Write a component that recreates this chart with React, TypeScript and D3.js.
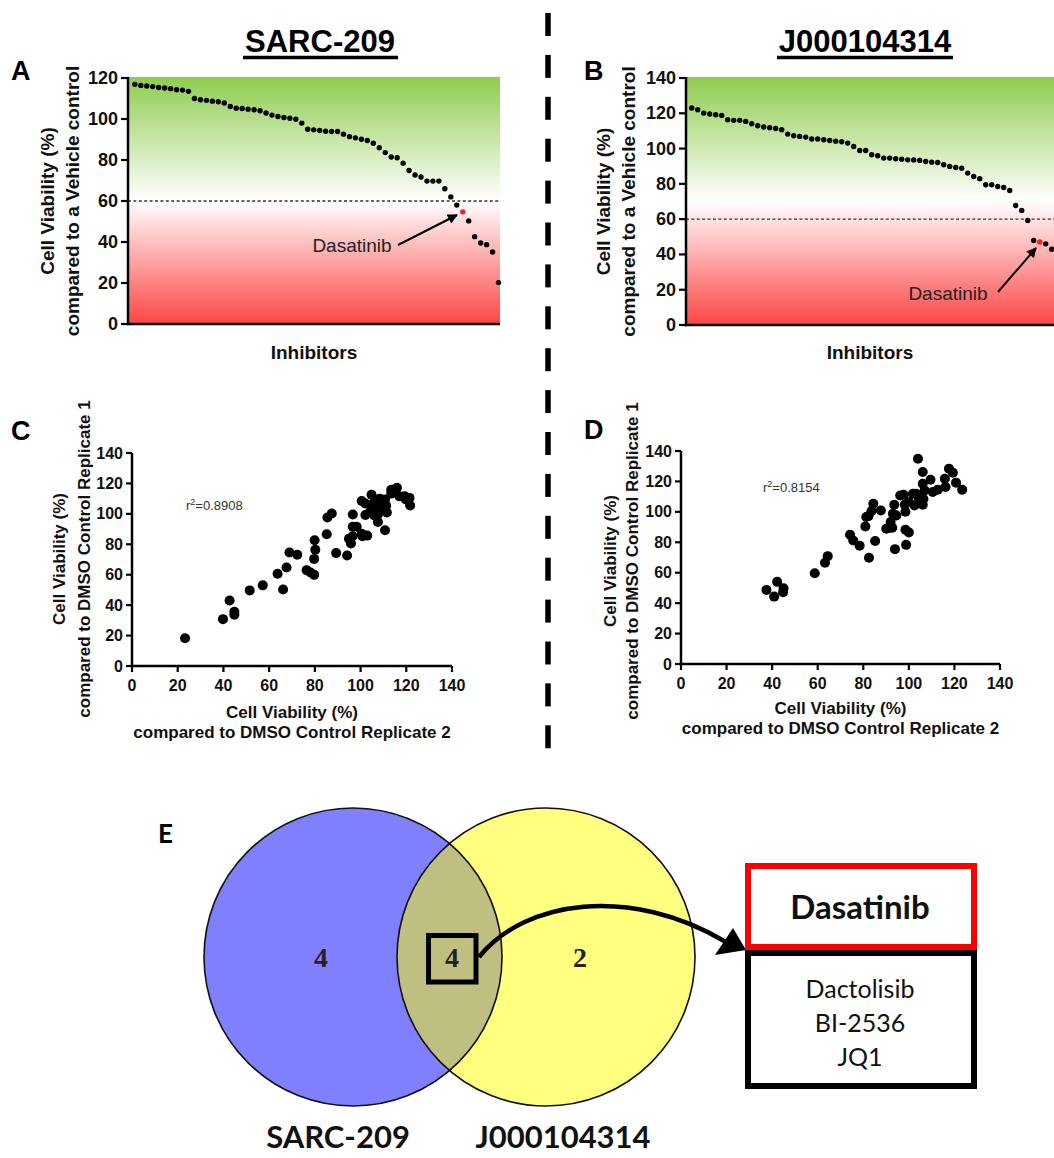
import React from 'react';
import * as d3 from 'd3';

const SANS = '"Liberation Sans", Arial, Helvetica, sans-serif';
const SERIF = '"Liberation Serif", "Times New Roman", serif';
const CAL = 'Lato, "Open Sans", sans-serif';

// ---------- Data ----------
const sarcViability = [
  116.9, 116.4, 116.1, 115.8, 115.4, 115.1, 114.8, 114.3, 114.1, 113.5,
  110.0, 109.4, 109.1, 108.7, 108.4, 107.8, 106.1, 105.3, 105.1, 104.8,
  104.5, 104.0, 102.9, 101.9, 101.2, 100.7, 100.4, 99.9, 98.0, 95.0,
  94.7, 94.4, 94.0, 93.9, 93.9, 92.6, 91.4, 90.8, 90.1, 89.5,
  88.2, 86.0, 83.6, 81.5, 81.1, 78.4, 74.9, 72.7, 71.7, 69.7,
  69.7, 69.7, 66.0, 62.0, 58.0, 54.7, 50.3, 42.6, 39.5, 38.7,
  35.1, 20.2,
];
const sarcDasatinibIndex = 55;

const jViability = [
  123.0, 122.0, 120.1, 119.6, 119.2, 118.8, 116.3, 116.0, 116.0, 115.4,
  114.1, 112.9, 112.2, 111.8, 111.4, 110.7, 108.2, 107.3, 106.9, 106.5,
  105.4, 105.4, 105.0, 104.6, 104.2, 103.9, 103.1, 101.2, 98.9, 98.9,
  96.5, 95.9, 94.6, 94.6, 94.2, 94.0, 93.6, 93.5, 93.3, 92.7,
  92.3, 92.1, 90.8, 89.9, 89.3, 88.9, 86.1, 84.2, 82.9, 79.5,
  79.5, 78.5, 77.9, 76.2, 67.7, 64.9, 59.2, 47.9, 47.1, 46.0,
  42.9,
];
const jDasatinibIndex = 58;

const threshold = 60;
const sarcYTicks = [0, 20, 40, 60, 80, 100, 120];
const jYTicks = [0, 20, 40, 60, 80, 100, 120, 140];
const scatterTicks = [0, 20, 40, 60, 80, 100, 120, 140];

const sarcRep2 = [
  23.2, 39.8, 42.7, 44.8, 44.8, 51.5, 57.2, 63.7, 66.1, 67.6,
  68.9, 72.3, 76.4, 78.1, 79.7, 79.9, 80.2, 79.7, 85.2, 85.5,
  87.4, 89.3, 94.1, 94.9, 95.8, 96.5, 96.6, 96.6, 98.3, 100.5,
  100.8, 102.9, 100.5, 102.1, 102.1, 104.8, 105.2, 106.0, 106.8, 107.6,
  107.6, 108.4, 110.7, 110.7, 111.5, 111.2, 113.4, 113.4, 115.9, 117.0,
  119.3, 119.8, 121.4, 121.7, 104.0, 109.0, 106.0,
];
const sarcRep1 = [
  18.2, 30.8, 43.1, 35.7, 33.7, 49.7, 53.0, 60.6, 50.3, 64.8,
  74.6, 73.1, 63.0, 61.5, 59.9, 82.7, 76.4, 70.4, 86.6, 97.6,
  100.2, 74.2, 72.6, 83.6, 80.5, 85.3, 99.6, 91.5, 91.5, 86.9,
  85.3, 85.7, 108.5, 106.8, 99.3, 112.5, 103.9, 98.9, 102.8, 94.6,
  99.6, 110.0, 109.4, 89.2, 100.9, 105.3, 115.9, 113.3, 117.2, 111.5,
  111.5, 109.4, 110.5, 105.5, 101.0, 104.0, 108.0,
];
const sarcR2 = '0.8908';

const jRep2 = [
  37.5, 42.2, 40.9, 45.0, 44.8, 58.7, 63.2, 64.4, 74.2, 75.6,
  78.4, 82.5, 80.9, 81.3, 82.3, 84.4, 83.6, 85.2, 87.7, 90.1,
  91.5, 92.0, 92.7, 93.0, 93.6, 94.5, 93.9, 96.2, 97.7, 98.5,
  98.5, 100.0, 98.8, 98.2, 100.0, 101.8, 102.5, 104.0, 106.1, 106.1,
  106.4, 106.9, 106.1, 109.5, 110.5, 112.7, 115.8, 116.1, 117.6, 119.3,
  120.7, 123.4, 104.4, 103.2,
];
const jRep1 = [
  48.7, 54.0, 44.3, 49.8, 47.2, 59.7, 66.5, 70.9, 84.9, 81.2,
  77.7, 69.8, 90.4, 96.6, 97.2, 105.3, 100.5, 80.8, 100.9, 88.9,
  89.5, 93.3, 89.5, 98.7, 104.7, 97.6, 75.5, 110.8, 111.3, 100.1,
  88.2, 86.5, 78.3, 104.7, 106.4, 111.9, 104.2, 134.9, 126.2, 118.5,
  108.4, 114.1, 104.7, 121.1, 113.0, 114.6, 121.8, 116.3, 128.4, 125.7,
  119.2, 114.6, 108.8, 111.9,
];
const jR2 = '0.8154';

const cellLines = ['SARC-209', 'J000104314'];
const vennCounts = [4, 4, 2]; // SARC-209 only, shared, J000104314 only
const sharedHighlight = 'Dasatinib';
const sharedOthers = ['Dactolisib', 'BI-2536', 'JQ1'];

// ---------- Components ----------
type WFProps = {
  id: string;
  values: number[];
  red: number;
  yMax: number;
  ticks: number[];
  x0: number; x1: number; y0: number; y1: number;
  xDomain: [number, number];
  labX1: number; labX2: number;
  ann: { tx: number; ty: number; ax1: number; ay1: number; ax2: number; ay2: number };
};

function Waterfall(p: WFProps) {
  const x = d3.scaleLinear().domain(p.xDomain).range([p.x0, p.x1]);
  const y = d3.scaleLinear().domain([0, p.yMax]).range([p.y0, p.y1]);
  const top = y(p.yMax);
  const cy = (p.y0 + top) / 2;
  return (
    <g>
      <rect x={p.x0} y={top - 1} width={p.x1 - p.x0} height={p.y0 - top + 1} fill="url(#wfGrad)" />
      <line x1={p.x0} x2={p.x1} y1={y(threshold)} y2={y(threshold)} stroke="#333" strokeWidth={1.3} strokeDasharray="3 2.4" />
      {p.values.map((v, i) => (
        <circle key={i} cx={x(i)} cy={y(v)} r={2.7} fill={i === p.red ? '#ff1e1e' : '#000'} />
      ))}
      <line x1={p.x0} x2={p.x0} y1={top - 1} y2={p.y0 + 1.2} stroke="#000" strokeWidth={2.5} />
      <line x1={p.x0 - 1.2} x2={p.x1} y1={p.y0} y2={p.y0} stroke="#000" strokeWidth={2.5} />
      {p.ticks.map((t) => (
        <g key={t}>
          <line x1={p.x0 - 7} x2={p.x0} y1={y(t)} y2={y(t)} stroke="#000" strokeWidth={2.2} />
          <text x={p.x0 - 10} y={y(t)} textAnchor="end" dominantBaseline="central" fontFamily={SANS} fontWeight="bold" fontSize={18} fill="#111">{t}</text>
        </g>
      ))}
      <text transform={`translate(${p.labX1},${cy}) rotate(-90)`} textAnchor="middle" dominantBaseline="central" fontFamily={SANS} fontWeight="bold" fontSize={19} fill="#111">Cell Viability (%)</text>
      <text transform={`translate(${p.labX2},${cy}) rotate(-90)`} textAnchor="middle" dominantBaseline="central" fontFamily={SANS} fontWeight="bold" fontSize={19} fill="#111">compared to a Vehicle control</text>
      <text x={(p.x0 + p.x1) / 2} y={352} textAnchor="middle" dominantBaseline="central" fontFamily={SANS} fontWeight="bold" fontSize={19} fill="#111">Inhibitors</text>
      <text x={p.ann.tx} y={p.ann.ty} textAnchor="middle" dominantBaseline="central" fontFamily={SANS} fontSize={19} fill="#222">Dasatinib</text>
      <line x1={p.ann.ax1} y1={p.ann.ay1} x2={p.ann.ax2} y2={p.ann.ay2} stroke="#000" strokeWidth={2} markerEnd="url(#smallArrow)" />
    </g>
  );
}

type ScProps = {
  xs: number[]; ys: number[];
  x0: number; x1: number; y0: number; y1: number;
  r2: string; r2x: number; r2y: number;
  labX1: number; labX2: number; labCY: number;
  xlabY1: number; xlabY2: number;
};

function Scatter(p: ScProps) {
  const x = d3.scaleLinear().domain([0, 140]).range([p.x0, p.x1]);
  const y = d3.scaleLinear().domain([0, 140]).range([p.y0, p.y1]);
  const cx = (p.x0 + p.x1) / 2;
  return (
    <g>
      <line x1={p.x0} x2={p.x0} y1={p.y1} y2={p.y0 + 1.2} stroke="#000" strokeWidth={2.5} />
      <line x1={p.x0 - 1.2} x2={p.x1} y1={p.y0} y2={p.y0} stroke="#000" strokeWidth={2.5} />
      {scatterTicks.map((t) => (
        <g key={'y' + t}>
          <line x1={p.x0 - 6} x2={p.x0} y1={y(t)} y2={y(t)} stroke="#000" strokeWidth={2.2} />
          <text x={p.x0 - 9} y={y(t)} textAnchor="end" dominantBaseline="central" fontFamily={SANS} fontWeight="bold" fontSize={16} fill="#111">{t}</text>
        </g>
      ))}
      {scatterTicks.map((t) => (
        <g key={'x' + t}>
          <line x1={x(t)} x2={x(t)} y1={p.y0} y2={p.y0 + 6} stroke="#000" strokeWidth={2.2} />
          <text x={x(t)} y={p.y0 + 19} textAnchor="middle" dominantBaseline="central" fontFamily={SANS} fontWeight="bold" fontSize={16} fill="#111">{t}</text>
        </g>
      ))}
      {p.xs.map((v, i) => (
        <circle key={i} cx={x(v)} cy={y(p.ys[i])} r={5} fill="#000" />
      ))}
      <text x={p.r2x} y={p.r2y} fontFamily={SANS} fontSize={13} fill="#333">
        r<tspan dy={-5} fontSize={9}>2</tspan><tspan dy={5}>={p.r2}</tspan>
      </text>
      <text transform={`translate(${p.labX1},${p.labCY}) rotate(-90)`} textAnchor="middle" dominantBaseline="central" fontFamily={SANS} fontWeight="bold" fontSize={17} fill="#111">Cell Viability (%)</text>
      <text transform={`translate(${p.labX2},${p.labCY}) rotate(-90)`} textAnchor="middle" dominantBaseline="central" fontFamily={SANS} fontWeight="bold" fontSize={17} fill="#111">compared to DMSO Control Replicate 1</text>
      <text x={cx} y={p.xlabY1} textAnchor="middle" dominantBaseline="central" fontFamily={SANS} fontWeight="bold" fontSize={17} fill="#111">Cell Viability (%)</text>
      <text x={cx} y={p.xlabY2} textAnchor="middle" dominantBaseline="central" fontFamily={SANS} fontWeight="bold" fontSize={17} fill="#111">compared to DMSO Control Replicate 2</text>
    </g>
  );
}

function Venn() {
  const r = 149;
  const cL = { x: 353, y: 957 };
  const cR = { x: 546, y: 957 };
  const curve = d3.path();
  curve.moveTo(479, 957);
  curve.bezierCurveTo(525, 900, 630, 885, 726, 942);
  return (
    <g>
      <defs>
        <clipPath id="leftClip">
          <circle cx={cL.x} cy={cL.y} r={r} />
        </clipPath>
      </defs>
      <circle cx={cL.x} cy={cL.y} r={r} fill="#8080ff" />
      <circle cx={cR.x} cy={cR.y} r={r} fill="#ffff80" />
      <circle cx={cR.x} cy={cR.y} r={r} fill="#bfbf82" clipPath="url(#leftClip)" />
      <circle cx={cL.x} cy={cL.y} r={r} fill="none" stroke="#111" strokeWidth={1.6} />
      <circle cx={cR.x} cy={cR.y} r={r} fill="none" stroke="#111" strokeWidth={1.6} />
      <text x={321} y={957} textAnchor="middle" dominantBaseline="central" fontFamily={SERIF} fontWeight="bold" fontSize={28} fill="#222">{vennCounts[0]}</text>
      <rect x={428.5} y={935.5} width={47.5} height={46.5} fill="none" stroke="#000" strokeWidth={5} />
      <text x={452} y={957} textAnchor="middle" dominantBaseline="central" fontFamily={SERIF} fontWeight="bold" fontSize={28} fill="#222">{vennCounts[1]}</text>
      <text x={580} y={957} textAnchor="middle" dominantBaseline="central" fontFamily={SERIF} fontWeight="bold" fontSize={28} fill="#222">{vennCounts[2]}</text>
      <path d={curve.toString()} fill="none" stroke="#000" strokeWidth={4.5} />
      <polygon points="746,950 715,955 733,928" fill="#000" />
      <rect x={748} y={866} width={226} height={81} fill="#fff" stroke="#ff0000" strokeWidth={6} />
      <rect x={748} y={953} width={226} height={133} fill="#fff" stroke="#000" strokeWidth={6} />
      <text x={860} y={906} textAnchor="middle" dominantBaseline="central" fontFamily={CAL} fontWeight="bold" fontSize={33} fill="#111">{sharedHighlight}</text>
      {sharedOthers.map((s, i) => (
        <text key={s} x={860} y={988 + i * 34} textAnchor="middle" dominantBaseline="central" fontFamily={CAL} fontSize={25} fill="#111">{s}</text>
      ))}
      <text x={338} y={1148} textAnchor="middle" fontFamily={CAL} fontWeight="bold" fontSize={31} fill="#111">{cellLines[0]}</text>
      <text x={563} y={1148} textAnchor="middle" fontFamily={CAL} fontWeight="bold" fontSize={31} fill="#111">{cellLines[1]}</text>
    </g>
  );
}

export default function App() {
  const dashStarts = d3.range(18).map((i) => 13 + i * 41.9);
  return (
    <svg width={1054} height={1158} viewBox="0 0 1054 1158" style={{ position: 'absolute', left: 0, top: 0, background: '#fff' }}>
      <defs>
        <linearGradient id="wfGrad" x1="0" y1="0" x2="0" y2="1">
          <stop offset="0%" stopColor="#8ecd4e" />
          <stop offset="50%" stopColor="#ffffff" />
          <stop offset="100%" stopColor="#fc4545" />
        </linearGradient>
        <marker id="smallArrow" viewBox="0 0 10 10" refX={9} refY={5} markerWidth={11} markerHeight={10} markerUnits="userSpaceOnUse" orient="auto">
          <path d="M0,0 L10,5 L0,10 z" fill="#000" />
        </marker>
      </defs>
      <rect x={0} y={0} width={1054} height={1158} fill="#fff" />

      <text x={320} y={52} textAnchor="middle" fontFamily={SANS} fontWeight="bold" fontSize={31} fill="#000">{cellLines[0]}</text>
      <line x1={243} x2={398} y1={57.5} y2={57.5} stroke="#000" strokeWidth={3.5} />
      <text x={865} y={52} textAnchor="middle" fontFamily={SANS} fontWeight="bold" fontSize={31} fill="#000">{cellLines[1]}</text>
      <line x1={777} x2={953} y1={57.5} y2={57.5} stroke="#000" strokeWidth={3.5} />

      <text x={11} y={80} fontFamily={SANS} fontWeight="bold" fontSize={27} fill="#000">A</text>
      <text x={584} y={80} fontFamily={SANS} fontWeight="bold" fontSize={27} fill="#000">B</text>
      <text x={11} y={440} fontFamily={SANS} fontWeight="bold" fontSize={27} fill="#000">C</text>
      <text x={584} y={439} fontFamily={SANS} fontWeight="bold" fontSize={27} fill="#000">D</text>
      <text x={158} y={843} fontFamily={CAL} fontWeight="bold" fontSize={26} fill="#000">E</text>

      {dashStarts.map((s, i) => (
        <line key={i} x1={548} x2={548} y1={s} y2={s + 23} stroke="#000" strokeWidth={5.5} />
      ))}

      <Waterfall
        id="A" values={sarcViability} red={sarcDasatinibIndex} yMax={120} ticks={sarcYTicks}
        x0={128} x1={500} y0={324} y1={78} xDomain={[-1.15, 61.25]}
        labX1={47} labX2={72}
        ann={{ tx: 352, ty: 245, ax1: 398, ay1: 245, ax2: 457, ay2: 215 }}
      />
      <Waterfall
        id="B" values={jViability} red={jDasatinibIndex} yMax={140} ticks={jYTicks}
        x0={686} x1={1054} y0={325} y1={78} xDomain={[-0.95, 60.38]}
        labX1={603} labX2={628}
        ann={{ tx: 948, ty: 293, ax1: 998, ay1: 292, ax2: 1036, ay2: 248 }}
      />

      <Scatter
        xs={sarcRep2} ys={sarcRep1} x0={132} x1={452} y0={666} y1={453}
        r2={sarcR2} r2x={186} r2y={510}
        labX1={59} labX2={84} labCY={559} xlabY1={712} xlabY2={732}
      />
      <Scatter
        xs={jRep2} ys={jRep1} x0={681} x1={1000} y0={664} y1={451}
        r2={jR2} r2x={763} r2y={492}
        labX1={610} labX2={632} labCY={561} xlabY1={708} xlabY2={728}
      />

      <Venn />
    </svg>
  );
}
